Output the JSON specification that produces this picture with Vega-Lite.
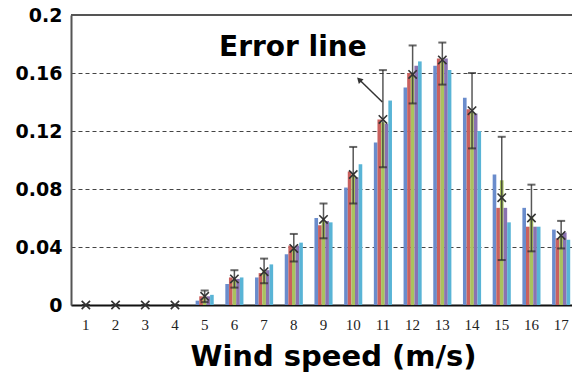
{
  "$schema": "https://vega.github.io/schema/vega-lite/v6.json",
  "width": 501,
  "height": 290,
  "autosize": {"type": "none"},
  "padding": {"left": 71, "top": 15, "right": 0, "bottom": 69},
  "config": {
    "view": {"stroke": null},
    "font": "DejaVu Sans",
    "axisX": {
      "titleFont": "DejaVu Sans", "titleFontSize": 29, "titleFontWeight": "bold", "titleColor": "#000000",
      "titleX": 262, "titleY": 60, "titleAlign": "center", "titleBaseline": "alphabetic",
      "labelAngle": 0, "labelFont": "Liberation Serif", "labelFontSize": 15, "labelColor": "#222222", "labelPadding": 12,
      "ticks": false, "domainColor": "#111111", "domainWidth": 2, "grid": false
    },
    "axisY": {
      "labelFont": "DejaVu Sans", "labelFontSize": 19, "labelFontWeight": "bold", "labelColor": "#000000", "labelPadding": 9,
      "ticks": false, "domainColor": "#555555", "domainWidth": 2,
      "grid": true, "gridColor": "#444444", "gridDash": [4, 3], "gridWidth": 1
    }
  },
  "datasets": {
    "bars": [
      {"ws": 1, "s": "S1", "v": 0}, {"ws": 1, "s": "S2", "v": 0}, {"ws": 1, "s": "S3", "v": 0}, {"ws": 1, "s": "S4", "v": 0}, {"ws": 1, "s": "S5", "v": 0},
      {"ws": 2, "s": "S1", "v": 0}, {"ws": 2, "s": "S2", "v": 0}, {"ws": 2, "s": "S3", "v": 0}, {"ws": 2, "s": "S4", "v": 0}, {"ws": 2, "s": "S5", "v": 0},
      {"ws": 3, "s": "S1", "v": 0}, {"ws": 3, "s": "S2", "v": 0}, {"ws": 3, "s": "S3", "v": 0}, {"ws": 3, "s": "S4", "v": 0}, {"ws": 3, "s": "S5", "v": 0},
      {"ws": 4, "s": "S1", "v": 0}, {"ws": 4, "s": "S2", "v": 0}, {"ws": 4, "s": "S3", "v": 0}, {"ws": 4, "s": "S4", "v": 0}, {"ws": 4, "s": "S5", "v": 0},
      {"ws": 5, "s": "S1", "v": 0.003}, {"ws": 5, "s": "S2", "v": 0.006}, {"ws": 5, "s": "S3", "v": 0.006}, {"ws": 5, "s": "S4", "v": 0.006}, {"ws": 5, "s": "S5", "v": 0.007},
      {"ws": 6, "s": "S1", "v": 0.0145}, {"ws": 6, "s": "S2", "v": 0.019}, {"ws": 6, "s": "S3", "v": 0.018}, {"ws": 6, "s": "S4", "v": 0.018}, {"ws": 6, "s": "S5", "v": 0.019},
      {"ws": 7, "s": "S1", "v": 0.019}, {"ws": 7, "s": "S2", "v": 0.022}, {"ws": 7, "s": "S3", "v": 0.024}, {"ws": 7, "s": "S4", "v": 0.024}, {"ws": 7, "s": "S5", "v": 0.028},
      {"ws": 8, "s": "S1", "v": 0.035}, {"ws": 8, "s": "S2", "v": 0.041}, {"ws": 8, "s": "S3", "v": 0.04}, {"ws": 8, "s": "S4", "v": 0.041}, {"ws": 8, "s": "S5", "v": 0.043},
      {"ws": 9, "s": "S1", "v": 0.06}, {"ws": 9, "s": "S2", "v": 0.055}, {"ws": 9, "s": "S3", "v": 0.058}, {"ws": 9, "s": "S4", "v": 0.058}, {"ws": 9, "s": "S5", "v": 0.057},
      {"ws": 10, "s": "S1", "v": 0.081}, {"ws": 10, "s": "S2", "v": 0.092}, {"ws": 10, "s": "S3", "v": 0.09}, {"ws": 10, "s": "S4", "v": 0.088}, {"ws": 10, "s": "S5", "v": 0.097},
      {"ws": 11, "s": "S1", "v": 0.112}, {"ws": 11, "s": "S2", "v": 0.128}, {"ws": 11, "s": "S3", "v": 0.126}, {"ws": 11, "s": "S4", "v": 0.125}, {"ws": 11, "s": "S5", "v": 0.141},
      {"ws": 12, "s": "S1", "v": 0.15}, {"ws": 12, "s": "S2", "v": 0.16}, {"ws": 12, "s": "S3", "v": 0.16}, {"ws": 12, "s": "S4", "v": 0.165}, {"ws": 12, "s": "S5", "v": 0.168},
      {"ws": 13, "s": "S1", "v": 0.165}, {"ws": 13, "s": "S2", "v": 0.17}, {"ws": 13, "s": "S3", "v": 0.168}, {"ws": 13, "s": "S4", "v": 0.17}, {"ws": 13, "s": "S5", "v": 0.162},
      {"ws": 14, "s": "S1", "v": 0.143}, {"ws": 14, "s": "S2", "v": 0.135}, {"ws": 14, "s": "S3", "v": 0.133}, {"ws": 14, "s": "S4", "v": 0.132}, {"ws": 14, "s": "S5", "v": 0.12},
      {"ws": 15, "s": "S1", "v": 0.09}, {"ws": 15, "s": "S2", "v": 0.067}, {"ws": 15, "s": "S3", "v": 0.086}, {"ws": 15, "s": "S4", "v": 0.067}, {"ws": 15, "s": "S5", "v": 0.057},
      {"ws": 16, "s": "S1", "v": 0.067}, {"ws": 16, "s": "S2", "v": 0.054}, {"ws": 16, "s": "S3", "v": 0.061}, {"ws": 16, "s": "S4", "v": 0.054}, {"ws": 16, "s": "S5", "v": 0.054},
      {"ws": 17, "s": "S1", "v": 0.052}, {"ws": 17, "s": "S2", "v": 0.046}, {"ws": 17, "s": "S3", "v": 0.048}, {"ws": 17, "s": "S4", "v": 0.05}, {"ws": 17, "s": "S5", "v": 0.045}
    ],
    "err": [
      {"ws": 1, "mean": 0, "lo": 0, "hi": 0},
      {"ws": 2, "mean": 0, "lo": 0, "hi": 0},
      {"ws": 3, "mean": 0, "lo": 0, "hi": 0},
      {"ws": 4, "mean": 0, "lo": 0, "hi": 0},
      {"ws": 5, "mean": 0.006, "lo": 0.002, "hi": 0.01},
      {"ws": 6, "mean": 0.018, "lo": 0.012, "hi": 0.024},
      {"ws": 7, "mean": 0.023, "lo": 0.015, "hi": 0.032},
      {"ws": 8, "mean": 0.039, "lo": 0.03, "hi": 0.049},
      {"ws": 9, "mean": 0.059, "lo": 0.046, "hi": 0.07},
      {"ws": 10, "mean": 0.09, "lo": 0.07, "hi": 0.109},
      {"ws": 11, "mean": 0.128, "lo": 0.095, "hi": 0.162},
      {"ws": 12, "mean": 0.159, "lo": 0.139, "hi": 0.179},
      {"ws": 13, "mean": 0.169, "lo": 0.152, "hi": 0.181},
      {"ws": 14, "mean": 0.134, "lo": 0.108, "hi": 0.16},
      {"ws": 15, "mean": 0.074, "lo": 0.031, "hi": 0.116},
      {"ws": 16, "mean": 0.06, "lo": 0.037, "hi": 0.083},
      {"ws": 17, "mean": 0.048, "lo": 0.039, "hi": 0.058}
    ],
    "top": [{"y": 0.2}],
    "note": [{"ax": 7.97, "ay": 0.172, "t": "Error line"}],
    "arrow": [{"ax": 10.98, "ay": 0.14, "ax2": 10.2, "ay2": 0.1555}],
    "head": [{"ax": 10.2, "ay": 0.1555}]
  },
  "layer": [
    {
      "layer": [
        {
          "data": {"name": "bars"},
          "mark": {"type": "bar"},
          "encoding": {
            "x": {
              "field": "ws", "type": "ordinal",
              "scale": {"domain": [1,2,3,4,5,6,7,8,9,10,11,12,13,14,15,16,17], "range": [0, 505], "paddingInner": 0.39, "paddingOuter": 0.195},
              "axis": {"title": "Wind speed (m/s)"}
            },
            "xOffset": {"field": "s", "type": "nominal", "scale": {"paddingInner": 0, "paddingOuter": 0}},
            "y": {"field": "v", "type": "quantitative", "scale": {"domain": [0, 0.2], "nice": false},
              "axis": {"title": null, "values": [0, 0.04, 0.08, 0.12, 0.16, 0.2], "format": ".2~f"}},
            "color": {
              "field": "s", "type": "nominal", "legend": null,
              "scale": {"domain": ["S1", "S2", "S3", "S4", "S5"], "range": ["#6a8ccc", "#c9605e", "#a9c25e", "#8a72b0", "#59b4d6"]}
            }
          }
        },
        {
          "data": {"name": "err"},
          "mark": {"type": "rule", "color": "#3a3a3a", "strokeWidth": 1.5, "opacity": 0.85},
          "encoding": {
            "x": {"field": "ws", "type": "ordinal", "axis": {"title": "Wind speed (m/s)"}},
            "y": {"field": "lo", "type": "quantitative", "axis": {"title": null, "values": [0, 0.04, 0.08, 0.12, 0.16, 0.2], "format": ".2~f"}},
            "y2": {"field": "hi"}
          }
        },
        {
          "data": {"name": "err"},
          "mark": {"type": "tick", "color": "#2a2a2a", "thickness": 2, "size": 8},
          "encoding": {
            "x": {"field": "ws", "type": "ordinal", "axis": {"title": "Wind speed (m/s)"}},
            "y": {"field": "lo", "type": "quantitative", "axis": {"title": null, "values": [0, 0.04, 0.08, 0.12, 0.16, 0.2], "format": ".2~f"}}
          }
        },
        {
          "data": {"name": "err"},
          "mark": {"type": "tick", "color": "#2a2a2a", "thickness": 2, "size": 8},
          "encoding": {
            "x": {"field": "ws", "type": "ordinal", "axis": {"title": "Wind speed (m/s)"}},
            "y": {"field": "hi", "type": "quantitative", "axis": {"title": null, "values": [0, 0.04, 0.08, 0.12, 0.16, 0.2], "format": ".2~f"}}
          }
        },
        {
          "data": {"name": "err"},
          "mark": {"type": "point", "shape": "M-1,-1L1,1M-1,1L1,-1", "filled": false, "size": 70, "strokeWidth": 1.6, "color": "#333333", "opacity": 1},
          "encoding": {
            "x": {"field": "ws", "type": "ordinal", "axis": {"title": "Wind speed (m/s)"}},
            "y": {"field": "mean", "type": "quantitative", "axis": {"title": null, "values": [0, 0.04, 0.08, 0.12, 0.16, 0.2], "format": ".2~f"}}
          }
        },
        {
          "data": {"name": "top"},
          "mark": {"type": "rule", "color": "#555555", "strokeWidth": 2},
          "encoding": {
            "y": {"field": "y", "type": "quantitative", "axis": {"title": null, "values": [0, 0.04, 0.08, 0.12, 0.16, 0.2], "format": ".2~f"}}
          }
        }
      ]
    },
    {
      "layer": [
        {
          "data": {"name": "note"},
          "mark": {"type": "text", "font": "DejaVu Sans", "fontSize": 28, "fontWeight": "bold", "color": "#000000", "align": "center", "baseline": "alphabetic"},
          "encoding": {
            "x": {"field": "ax", "type": "quantitative", "scale": {"domain": [0.5, 17.5], "range": [0, 505], "nice": false, "zero": false}, "axis": null},
            "y": {"field": "ay", "type": "quantitative", "axis": {"title": null, "values": [0, 0.04, 0.08, 0.12, 0.16, 0.2], "format": ".2~f"}},
            "text": {"field": "t"}
          }
        },
        {
          "data": {"name": "arrow"},
          "mark": {"type": "rule", "color": "#333333", "strokeWidth": 1.5},
          "encoding": {
            "x": {"field": "ax", "type": "quantitative", "axis": null},
            "y": {"field": "ay", "type": "quantitative", "axis": {"title": null, "values": [0, 0.04, 0.08, 0.12, 0.16, 0.2], "format": ".2~f"}},
            "x2": {"field": "ax2"},
            "y2": {"field": "ay2"}
          }
        },
        {
          "data": {"name": "head"},
          "mark": {"type": "point", "shape": "triangle-up", "filled": true, "size": 45, "angle": -45, "color": "#333333", "opacity": 1},
          "encoding": {
            "x": {"field": "ax", "type": "quantitative", "axis": null},
            "y": {"field": "ay", "type": "quantitative", "axis": {"title": null, "values": [0, 0.04, 0.08, 0.12, 0.16, 0.2], "format": ".2~f"}}
          }
        }
      ]
    }
  ],
  "resolve": {"scale": {"x": "independent"}}
}
